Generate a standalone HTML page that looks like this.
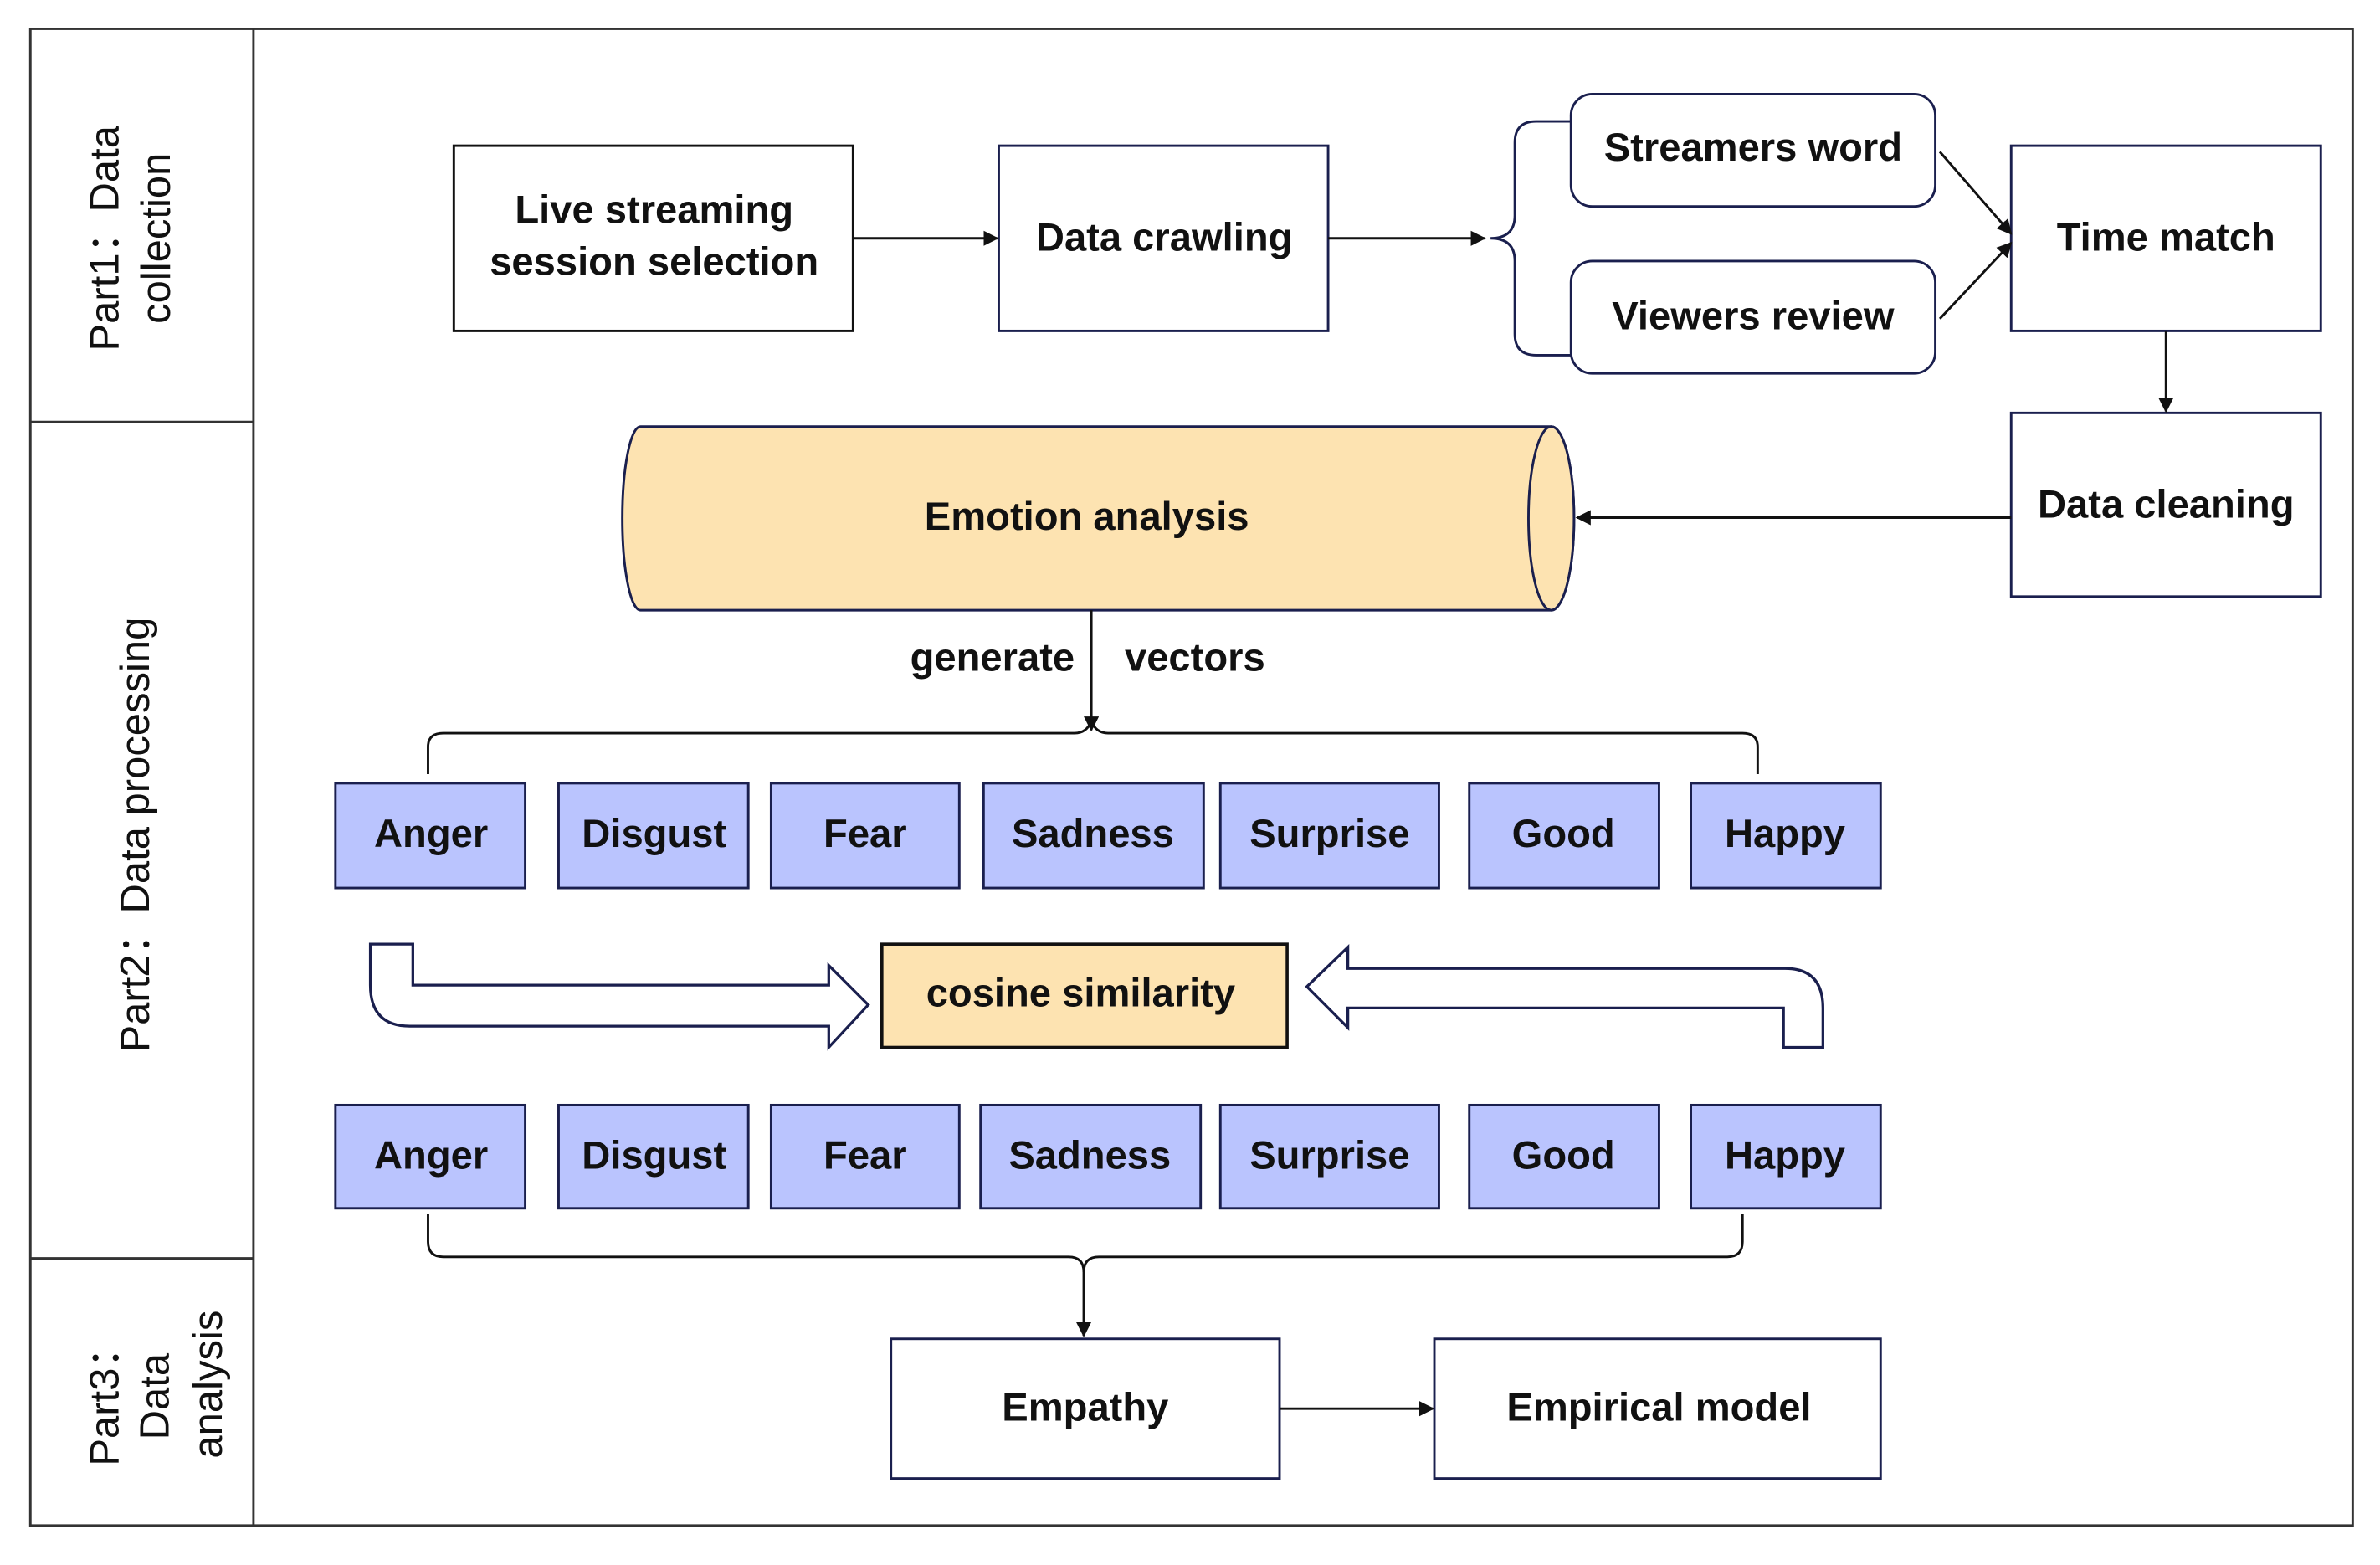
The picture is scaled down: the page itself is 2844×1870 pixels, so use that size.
<!DOCTYPE html>
<html><head><meta charset="utf-8"><style>html,body{margin:0;padding:0;background:#fff}svg{display:block}</style></head>
<body>
<svg width="2844" height="1870" viewBox="0 0 1568 1031" preserveAspectRatio="none" xmlns="http://www.w3.org/2000/svg">
<defs>
<marker id="ah" markerWidth="10" markerHeight="10" refX="9" refY="5" orient="auto" markerUnits="userSpaceOnUse"><path d="M0,0 L10,5 L0,10 z" fill="#111"/></marker>
<marker id="ah2" markerWidth="14" markerHeight="14" refX="13" refY="7" orient="auto" markerUnits="userSpaceOnUse"><path d="M0,0 L14,7 L0,14 z" fill="#111"/></marker>
</defs>
<g fill="none" stroke="#333" stroke-width="1.6">
<rect x="20" y="19" width="1530" height="986"/>
<line x1="167" y1="19" x2="167" y2="1005"/>
<line x1="20" y1="278" x2="167" y2="278"/>
<line x1="20" y1="829" x2="167" y2="829"/>
</g>
<g font-family="'Liberation Sans',sans-serif" font-size="27" fill="#111" text-anchor="middle">
<text transform="translate(78,157) rotate(-90)">Part1：Data</text>
<text transform="translate(112,157) rotate(-90)">collection</text>
<text transform="translate(98,550) rotate(-90)">Part2：Data processing</text>
<text transform="translate(78,920) rotate(-90)">Part3：</text>
<text transform="translate(111,920) rotate(-90)">Data</text>
<text transform="translate(146,912) rotate(-90)">analysis</text>
</g>
<g stroke-width="1.6">
<rect x="299" y="96" width="263" height="122" fill="#fff" stroke="#111"/>
<rect x="658" y="96" width="217" height="122" fill="#fff" stroke="#1a1f4e"/>
<rect x="1035" y="62" width="240" height="74" rx="14" fill="#fff" stroke="#1a1f4e"/>
<rect x="1035" y="172" width="240" height="74" rx="14" fill="#fff" stroke="#1a1f4e"/>
<rect x="1325" y="96" width="204" height="122" fill="#fff" stroke="#1a1f4e"/>
<rect x="1325" y="272" width="204" height="121" fill="#fff" stroke="#1a1f4e"/>
<path d="M422,281 L1022,281 A15,60.5 0 0 1 1022,402 L422,402 A12,60.5 0 0 1 422,281 z" fill="#fde3b1" stroke="#1a1f4e"/>
<ellipse cx="1022" cy="341.5" rx="15" ry="60.5" fill="#fde3b1" stroke="#1a1f4e"/>
<rect x="581" y="622" width="267" height="68" fill="#fde3b1" stroke="#111" stroke-width="2"/>
<rect x="587" y="882" width="256" height="92" fill="#fff" stroke="#1a1f4e"/>
<rect x="945" y="882" width="294" height="92" fill="#fff" stroke="#1a1f4e"/>
</g>
<g fill="#bac4fe" stroke="#1a1f4e" stroke-width="1.6">
<rect x="221" y="516" width="125" height="69"/><rect x="368" y="516" width="125" height="69"/><rect x="508" y="516" width="124" height="69"/><rect x="648" y="516" width="145" height="69"/><rect x="804" y="516" width="144" height="69"/><rect x="968" y="516" width="125" height="69"/><rect x="1114" y="516" width="125" height="69"/>
<rect x="221" y="728" width="125" height="68"/><rect x="368" y="728" width="125" height="68"/><rect x="508" y="728" width="124" height="68"/><rect x="646" y="728" width="145" height="68"/><rect x="804" y="728" width="144" height="68"/><rect x="968" y="728" width="125" height="68"/><rect x="1114" y="728" width="125" height="68"/>
</g>
<g fill="none" stroke="#111" stroke-width="1.6">
<line x1="562" y1="157" x2="657" y2="157" marker-end="url(#ah)"/>
<line x1="875" y1="157" x2="978" y2="157" marker-end="url(#ah)"/>
<path d="M1035,80 L1012,80 Q998,80 998,94 L998,142 Q998,157 982,157 Q998,157 998,172 L998,220 Q998,234 1012,234 L1035,234" stroke="#1a1f4e"/>
<line x1="1278" y1="100" x2="1325" y2="154" marker-end="url(#ah)"/>
<line x1="1278" y1="210" x2="1325" y2="160" marker-end="url(#ah)"/>
<line x1="1427" y1="218" x2="1427" y2="271" marker-end="url(#ah)"/>
<line x1="1325" y1="341" x2="1039" y2="341" marker-end="url(#ah)"/>
<line x1="719" y1="402" x2="719" y2="481" marker-end="url(#ah)"/>
<path d="M282,510 L282,492 Q282,483 292,483 L708,483 Q716,483 719,475 Q722,483 730,483 L1148,483 Q1158,483 1158,492 L1158,510"/>
<path d="M282,800 L282,818 Q282,828 292,828 L704,828 Q714,828 714,838 L714,880" marker-end="url(#ah)"/>
<path d="M714,838 Q714,828 724,828 L1138,828 Q1148,828 1148,818 L1148,800"/>
<line x1="843" y1="928" x2="944" y2="928" marker-end="url(#ah)"/>
</g>
<g fill="#fff" stroke="#1a1f4e" stroke-width="1.8">
<path d="M244,622 L272,622 L272,649 L546,649 L546,636 L572,662 L546,690 L546,676 L270,676 Q244,676 244,649 z"/>
<path d="M861,650 L888,624 L888,638 L1176,638 Q1201,638 1201,664 L1201,690 L1175,690 L1175,664 L888,664 L888,677 z"/>
</g>
<g font-family="'Liberation Sans',sans-serif" font-weight="bold" font-size="26" fill="#111" text-anchor="middle">
<text x="431" y="147">Live streaming</text>
<text x="431" y="181">session selection</text>
<text x="767" y="165">Data crawling</text>
<text x="1155" y="106">Streamers word</text>
<text x="1155" y="217">Viewers review</text>
<text x="1427" y="165">Time match</text>
<text x="1427" y="341">Data cleaning</text>
<text x="716" y="349">Emotion analysis</text>
<text x="708" y="442" text-anchor="end">generate</text>
<text x="741" y="442" text-anchor="start">vectors</text>
<text x="284" y="558">Anger</text><text x="431" y="558">Disgust</text><text x="570" y="558">Fear</text><text x="720" y="558">Sadness</text><text x="876" y="558">Surprise</text><text x="1030" y="558">Good</text><text x="1176" y="558">Happy</text>
<text x="712" y="663">cosine  similarity</text>
<text x="284" y="770">Anger</text><text x="431" y="770">Disgust</text><text x="570" y="770">Fear</text><text x="718" y="770">Sadness</text><text x="876" y="770">Surprise</text><text x="1030" y="770">Good</text><text x="1176" y="770">Happy</text>
<text x="715" y="936">Empathy</text>
<text x="1093" y="936">Empirical model</text>
</g>
</svg>
</body></html>
